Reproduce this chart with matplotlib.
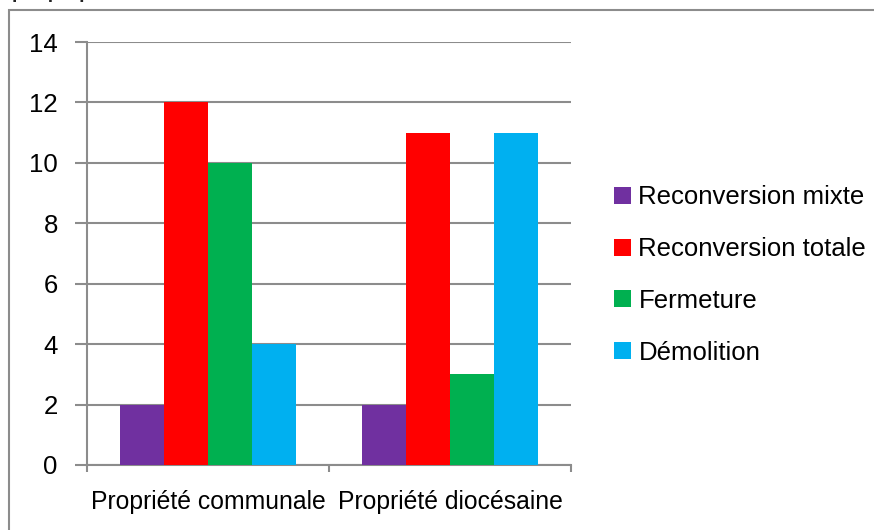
import matplotlib
matplotlib.use("Agg")
import matplotlib.pyplot as plt
from matplotlib.patches import Rectangle
import numpy as np

categories = ["Propriété communale", "Propriété diocésaine"]
series_names = ["Reconversion mixte", "Reconversion totale", "Fermeture", "Démolition"]
series_values = [
    [2, 2],
    [12, 11],
    [10, 3],
    [4, 11],
]
colors = ["#7030a0", "#ff0000", "#00b050", "#00b0f0"]
yticks = [0, 2, 4, 6, 8, 10, 12, 14]

plt.rcParams['font.family'] = ['Liberation Sans Narrow', 'Liberation Sans', 'DejaVu Sans']
FS = 18.5

fig = plt.figure(figsize=(8.74, 5.30), dpi=100)
ax = fig.add_axes([87/874, 1 - 465/530, (571 - 87)/874, (465 - 42)/530])

grid_col = "#8c8c8c"
x = np.arange(len(categories))
width = 1 / 5.5
for i, (name, vals) in enumerate(zip(series_names, series_values)):
    offs = (i - 1.5) * width
    ax.bar(x + offs, vals, width, color=colors[i], label=name, zorder=3)

ax.set_xlim(-0.5, len(categories) - 0.5)
ax.set_ylim(0, 14)
ax.set_yticks(yticks)
ax.set_yticklabels([str(v) for v in yticks], fontsize=FS)
ax.yaxis.grid(True, color=grid_col, linewidth=1.5, zorder=0)
ax.set_axisbelow(True)

# category ticks on the boundaries, labels centered
ax.set_xticks(np.arange(-0.5, len(categories), 1.0))
ax.set_xticklabels([])
ax.set_xticks(x, minor=True)
ax.set_xticklabels(categories, minor=True, fontsize=17.8)
ax.tick_params(axis='x', which='major', length=5, width=1.5, color=grid_col)
ax.tick_params(axis='x', which='minor', length=0, pad=18)
ax.tick_params(axis='y', length=9, width=1.5, color=grid_col, pad=12)

for s in ['top', 'right']:
    ax.spines[s].set_visible(False)
for s in ['left', 'bottom']:
    ax.spines[s].set_color(grid_col)
    ax.spines[s].set_linewidth(1.5)

ax.legend(loc='center left', bbox_to_anchor=(614/874, 1 - 275/530),
          bbox_transform=fig.transFigure, frameon=False, fontsize=FS,
          handlelength=0.65, handleheight=0.65, handletextpad=0.3,
          labelspacing=1.08, borderaxespad=0, borderpad=0)

# outer chart border (runs off the right and bottom edges)
fig.patches.append(Rectangle((9/874, -0.05), 1.0, 1 - 10/530 + 0.05,
                             transform=fig.transFigure, fill=False,
                             edgecolor="#8c8c8c", linewidth=1.5))
# clipped title from the page above
fig.text(12/874, 1.012, "par propriété", fontsize=14, fontweight='bold',
         va='center', ha='left', color="#222222")

fig.savefig("out.png", dpi=100)
